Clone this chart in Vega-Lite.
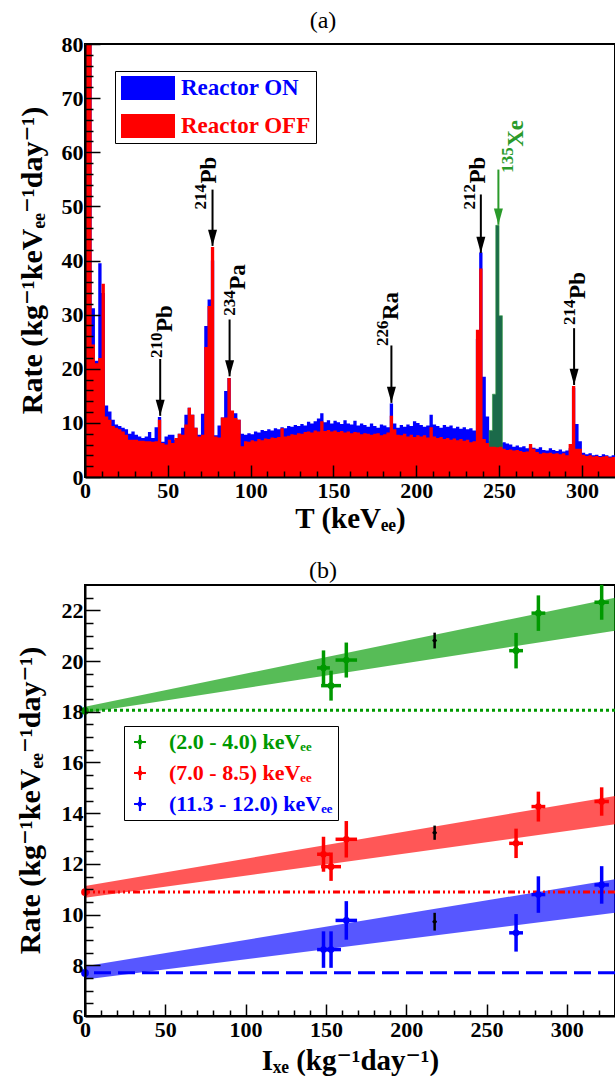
{
  "$schema": "https://vega.github.io/schema/vega-lite/v6.json",
  "padding": {"left": 13, "top": 8, "right": 0, "bottom": 0},
  "spacing": 108,
  "bounds": "flush",
  "resolve": {"scale": {"color": "independent", "fill": "independent", "stroke": "independent", "strokeDash": "independent"}, "legend": {"color": "independent"}},
  "datasets": {
    "hist": [
      {"E":0,"on":80,"off":80},{"E":2,"on":80,"off":80},{"E":4,"on":31.2,"off":24.5},{"E":6,"on":21.5,"off":21},
      {"E":8,"on":39.5,"off":22},{"E":10,"on":34,"off":35.7},{"E":12,"on":13.2,"off":11.2},{"E":14,"on":12.1,"off":10.6},
      {"E":16,"on":10.6,"off":9.4},{"E":18,"on":9.7,"off":9.1},{"E":20,"on":9.4,"off":8.8},{"E":22,"on":9.1,"off":8.4},
      {"E":24,"on":8.8,"off":7.8},{"E":26,"on":8.0,"off":6.9},{"E":28,"on":8.4,"off":6.9},{"E":30,"on":7.8,"off":6.9},
      {"E":32,"on":7.5,"off":6.7},{"E":34,"on":7.2,"off":6.7},{"E":36,"on":7.5,"off":6.6},{"E":38,"on":8.3,"off":6.6},
      {"E":40,"on":7.2,"off":6.5},{"E":42,"on":9.2,"off":6.6},{"E":44,"on":11.1,"off":10.6},{"E":46,"on":6.5,"off":6.3},
      {"E":48,"on":7.5,"off":6.0},{"E":50,"on":7.8,"off":6.9},{"E":52,"on":7.8,"off":6.3},{"E":54,"on":6.9,"off":7.2},
      {"E":56,"on":8.0,"off":8.0},{"E":58,"on":9.1,"off":7.8},{"E":60,"on":11.5,"off":9.7},{"E":62,"on":12.8,"off":12.8},
      {"E":64,"on":11.5,"off":11.5},{"E":66,"on":9.1,"off":9.1},{"E":68,"on":7.8,"off":7.5},{"E":70,"on":11.7,"off":7.8},
      {"E":72,"on":27.9,"off":24},{"E":74,"on":32.8,"off":31.6},{"E":76,"on":40,"off":42.5},{"E":78,"on":7.7,"off":7.5},
      {"E":80,"on":9.5,"off":7.3},{"E":82,"on":11.0,"off":11.0},{"E":84,"on":15.9,"off":11.0},{"E":86,"on":18.3,"off":18.3},
      {"E":88,"on":11.8,"off":12.3},{"E":90,"on":11.8,"off":10.9},{"E":92,"on":10.6,"off":10.6},{"E":94,"on":8.0,"off":5.7},
      {"E":96,"on":7.8,"off":6.6},{"E":98,"on":8.1,"off":6.5},{"E":100,"on":7.9,"off":6.8},{"E":102,"on":8.4,"off":6.6},
      {"E":104,"on":8.2,"off":7.0},{"E":106,"on":8.7,"off":6.8},{"E":108,"on":8.5,"off":7.1},{"E":110,"on":8.8,"off":7.0},
      {"E":112,"on":8.6,"off":7.3},{"E":114,"on":9.0,"off":7.2},{"E":116,"on":8.8,"off":7.4},{"E":118,"on":9.2,"off":9.0},
      {"E":120,"on":9.0,"off":7.5},{"E":122,"on":9.4,"off":7.6},{"E":124,"on":9.3,"off":7.9},{"E":126,"on":9.6,"off":7.8},
      {"E":128,"on":9.4,"off":8.1},{"E":130,"on":9.8,"off":8.0},{"E":132,"on":9.5,"off":8.3},{"E":134,"on":10.2,"off":8.4},
      {"E":136,"on":9.9,"off":8.2},{"E":138,"on":10.3,"off":8.6},{"E":140,"on":10.8,"off":8.4},{"E":142,"on":11.8,"off":10.3},
      {"E":144,"on":10.1,"off":8.5},{"E":146,"on":10.5,"off":8.7},{"E":148,"on":9.9,"off":8.4},{"E":150,"on":10.4,"off":8.6},
      {"E":152,"on":10.1,"off":8.3},{"E":154,"on":9.8,"off":8.5},{"E":156,"on":10.5,"off":8.2},{"E":158,"on":9.9,"off":8.4},
      {"E":160,"on":9.7,"off":8.1},{"E":162,"on":10.4,"off":8.3},{"E":164,"on":9.5,"off":8.2},{"E":166,"on":9.9,"off":7.9},
      {"E":168,"on":9.6,"off":8.1},{"E":170,"on":9.3,"off":8.0},{"E":172,"on":9.9,"off":7.8},{"E":174,"on":9.4,"off":8.0},
      {"E":176,"on":9.1,"off":8.1},{"E":178,"on":9.7,"off":7.7},{"E":180,"on":9.5,"off":7.9},{"E":182,"on":9.2,"off":8.2},
      {"E":184,"on":13.6,"off":11.3},{"E":186,"on":9.9,"off":8.8},{"E":188,"on":9.1,"off":7.8},{"E":190,"on":9.6,"off":7.7},
      {"E":192,"on":9.3,"off":8.0},{"E":194,"on":9.7,"off":7.5},{"E":196,"on":9.4,"off":7.8},{"E":198,"on":10.3,"off":7.4},
      {"E":200,"on":10.0,"off":7.7},{"E":202,"on":9.6,"off":7.5},{"E":204,"on":9.3,"off":7.7},{"E":206,"on":9.5,"off":7.3},
      {"E":208,"on":11.5,"off":9.2},{"E":210,"on":9.7,"off":7.5},{"E":212,"on":9.4,"off":7.2},{"E":214,"on":9.1,"off":7.4},
      {"E":216,"on":9.6,"off":7.0},{"E":218,"on":9.3,"off":7.2},{"E":220,"on":9.5,"off":6.9},{"E":222,"on":9.0,"off":7.1},
      {"E":224,"on":9.3,"off":6.8},{"E":226,"on":8.9,"off":7.0},{"E":228,"on":9.2,"off":6.7},{"E":230,"on":8.8,"off":6.9},
      {"E":232,"on":9.0,"off":6.4},{"E":234,"on":8.6,"off":6.6},{"E":236,"on":25.5,"off":27.2},{"E":238,"on":41.5,"off":38.5},
      {"E":240,"on":18.5,"off":7.0},{"E":242,"on":11.2,"off":6.3},{"E":244,"on":6.6,"off":5.6,"xe":8.6},{"E":246,"on":6.4,"off":5.6,"xe":15.3},
      {"E":248,"on":6.5,"off":5.5,"xe":46.5},{"E":250,"on":6.3,"off":5.6,"xe":29.8},{"E":252,"on":6.4,"off":5.2,"xe":0},{"E":254,"on":6.2,"off":5.0},
      {"E":256,"on":6.0,"off":5.1},{"E":258,"on":5.6,"off":4.9},{"E":260,"on":5.8,"off":5.0},{"E":262,"on":5.5,"off":4.8},
      {"E":264,"on":5.7,"off":4.6},{"E":266,"on":5.3,"off":4.7},{"E":268,"on":5.6,"off":6.1},{"E":270,"on":5.4,"off":5.2},
      {"E":272,"on":5.2,"off":4.6},{"E":274,"on":5.5,"off":4.3},{"E":276,"on":5.0,"off":4.5},{"E":278,"on":4.9,"off":4.4},
      {"E":280,"on":5.3,"off":4.5},{"E":282,"on":5.0,"off":4.3},{"E":284,"on":4.8,"off":4.4},{"E":286,"on":5.1,"off":4.2},
      {"E":288,"on":4.7,"off":4.4},{"E":290,"on":4.9,"off":4.0},{"E":292,"on":5.3,"off":6.1},{"E":294,"on":16.5,"off":16.8},
      {"E":296,"on":9.8,"off":5.2},{"E":298,"on":6.6,"off":5.2},{"E":300,"on":4.5,"off":4.1},{"E":302,"on":4.2,"off":3.9},
      {"E":304,"on":4.4,"off":4.0},{"E":306,"on":4.0,"off":3.8},{"E":308,"on":4.1,"off":3.9},{"E":310,"on":3.9,"off":3.7},
      {"E":312,"on":4.2,"off":3.8},{"E":314,"on":4.0,"off":3.9},{"E":316,"on":3.8,"off":3.6},{"E":318,"on":4.0,"off":3.7},
      {"E":320,"on":4.0,"off":3.7}
    ],
    "arrows": [
      {"el":"Pb","sup":"210","x":45.4,"top":21.8,"tip":11.3,"lx":48.0,"ly":22.0,"kind":"bg"},
      {"el":"Pb","sup":"214","x":77.0,"top":53.1,"tip":42.7,"lx":74.8,"ly":49.4,"kind":"bg"},
      {"el":"Pa","sup":"234","x":87.3,"top":29.1,"tip":18.6,"lx":92.6,"ly":29.8,"kind":"bg"},
      {"el":"Ra","sup":"226","x":185.0,"top":24.3,"tip":13.7,"lx":184.7,"ly":24.2,"kind":"bg"},
      {"el":"Pb","sup":"212","x":239.0,"top":52.2,"tip":41.4,"lx":237.5,"ly":49.4,"kind":"bg"},
      {"el":"Xe","sup":"135","x":249.6,"top":56.8,"tip":46.6,"lx":260.1,"ly":56.2,"kind":"xe"},
      {"el":"Pb","sup":"214","x":295.3,"top":27.5,"tip":17.0,"lx":297.8,"ly":28.1,"kind":"bg"}
    ],
    "bands": [
      {"series":"(2.0 - 4.0) keVₑₑ","I":0,"lo":17.95,"hi":18.2},{"series":"(2.0 - 4.0) keVₑₑ","I":330,"lo":21.2,"hi":22.5},
      {"series":"(7.0 - 8.5) keVₑₑ","I":0,"lo":10.66,"hi":11.13},{"series":"(7.0 - 8.5) keVₑₑ","I":330,"lo":13.56,"hi":14.68},
      {"series":"(11.3 - 12.0) keVₑₑ","I":0,"lo":7.44,"hi":7.96},{"series":"(11.3 - 12.0) keVₑₑ","I":330,"lo":10.07,"hi":11.39}
    ],
    "levels": [
      {"series":"(2.0 - 4.0) keVₑₑ","level":18.06},
      {"series":"(7.0 - 8.5) keVₑₑ","level":10.89},
      {"series":"(11.3 - 12.0) keVₑₑ","level":7.71}
    ],
    "pts": [
      {"series":"(2.0 - 4.0) keVₑₑ","I":148.5,"R":19.73,"eR":0.69,"eI":4.0},
      {"series":"(2.0 - 4.0) keVₑₑ","I":153.2,"R":19.03,"eR":0.59,"eI":6.2},
      {"series":"(2.0 - 4.0) keVₑₑ","I":162.7,"R":20.04,"eR":0.69,"eI":6.7},
      {"series":"(2.0 - 4.0) keVₑₑ","I":268.4,"R":20.41,"eR":0.7,"eI":4.3},
      {"series":"(2.0 - 4.0) keVₑₑ","I":282.3,"R":21.89,"eR":0.7,"eI":4.3},
      {"series":"(2.0 - 4.0) keVₑₑ","I":321.7,"R":22.32,"eR":0.69,"eI":4.5},
      {"series":"(7.0 - 8.5) keVₑₑ","I":148.5,"R":12.38,"eR":0.69,"eI":4.0},
      {"series":"(7.0 - 8.5) keVₑₑ","I":153.2,"R":11.89,"eR":0.56,"eI":6.2},
      {"series":"(7.0 - 8.5) keVₑₑ","I":162.7,"R":12.97,"eR":0.72,"eI":6.7},
      {"series":"(7.0 - 8.5) keVₑₑ","I":268.4,"R":12.81,"eR":0.58,"eI":4.3},
      {"series":"(7.0 - 8.5) keVₑₑ","I":282.3,"R":14.26,"eR":0.59,"eI":4.3},
      {"series":"(7.0 - 8.5) keVₑₑ","I":321.7,"R":14.46,"eR":0.56,"eI":4.5},
      {"series":"(11.3 - 12.0) keVₑₑ","I":148.5,"R":8.62,"eR":0.72,"eI":4.0},
      {"series":"(11.3 - 12.0) keVₑₑ","I":153.2,"R":8.62,"eR":0.72,"eI":6.2},
      {"series":"(11.3 - 12.0) keVₑₑ","I":162.7,"R":9.77,"eR":0.76,"eI":6.7},
      {"series":"(11.3 - 12.0) keVₑₑ","I":268.4,"R":9.28,"eR":0.74,"eI":4.3},
      {"series":"(11.3 - 12.0) keVₑₑ","I":282.3,"R":10.79,"eR":0.72,"eI":4.3},
      {"series":"(11.3 - 12.0) keVₑₑ","I":321.7,"R":11.17,"eR":0.74,"eI":4.5}
    ],
    "icpt": [
      {"series":"(2.0 - 4.0) keVₑₑ","I":0,"R":18.04},
      {"series":"(7.0 - 8.5) keVₑₑ","I":0,"R":10.89},
      {"series":"(11.3 - 12.0) keVₑₑ","I":0,"R":7.70}
    ],
    "black": [
      {"I":217.7,"R":20.81,"eR":0.31,"eI":1.2},
      {"I":217.7,"R":13.23,"eR":0.28,"eI":1.2},
      {"I":217.7,"R":9.72,"eR":0.35,"eI":1.2}
    ]
  },
  "vconcat": [
    {
      "width": 530,
      "height": 433,
      "title": {"text": "(a)", "fontSize": 24, "fontWeight": "normal", "anchor": "middle", "dx": -27, "offset": 0, "frame": "group"},
      "resolve": {"axis": {"x": "independent", "y": "independent"}},
      "layer": [
        {
          "data": {"name": "hist"},
          "mark": {"type": "area", "interpolate": "step-after", "clip": true},
          "encoding": {
            "x": {"field": "E", "type": "quantitative", "scale": {"domain": [0, 320], "nice": false},
              "axis": {"orient": "bottom", "values": [0, 50, 100, 150, 200, 250, 300], "tickSize": -12, "labelPadding": 15,
                "labelFlush": false, "zindex": 1, "title": "T (keVₑₑ)", "titleFontSize": 29, "titleY": 50, "titleBaseline": "alphabetic"}},
            "y": {"field": "on", "type": "quantitative", "stack": null, "scale": {"domain": [0, 80], "nice": false},
              "axis": {"orient": "left", "values": [0, 10, 20, 30, 40, 50, 60, 70, 80], "tickSize": -15, "labelPadding": 17,
                "labelFlush": false, "zindex": 1, "title": "Rate (kg⁻¹keVₑₑ⁻¹day⁻¹)",
                "titleX": -44, "titleY": 216, "titleAngle": 270, "titleAlign": "center", "titleBaseline": "alphabetic"}},
            "color": {"datum": "Reactor ON", "type": "nominal",
              "scale": {"domain": ["Reactor ON", "Reactor OFF"], "range": ["#0000ff", "#ff0000"]},
              "legend": {"orient": "none", "legendX": 30, "legendY": 27, "title": null, "padding": 5,
                "strokeColor": "black", "fillColor": "white",
                "symbolType": "M-2.25,-1H2.25V1H-2.25Z", "symbolSize": 576, "symbolOffset": 16, "symbolStrokeWidth": 0, "symbolOpacity": 1,
                "labelOffset": 21, "rowPadding": 14, "labelFontSize": 23, "labelFontWeight": "bold", "labelLimit": 300,
                "encode": {"labels": {"update": {"fill": {"signal": "datum.value === 'Reactor ON' ? '#0000ff' : '#ff0000'"}}}}}}
          }
        },
        {
          "data": {"name": "hist"},
          "mark": {"type": "area", "interpolate": "step-after", "clip": true, "color": "#1b6a4a", "stroke": "#2f9a3f", "strokeWidth": 0.6},
          "encoding": {
            "x": {"field": "E", "type": "quantitative", "axis": null},
            "y": {"field": "xe", "type": "quantitative", "stack": null, "axis": null}
          }
        },
        {
          "data": {"name": "hist"},
          "mark": {"type": "area", "interpolate": "step-after", "clip": true},
          "encoding": {
            "x": {"field": "E", "type": "quantitative",
              "axis": {"orient": "bottom", "values": [10,20,30,40,60,70,80,90,110,120,130,140,160,170,180,190,210,220,230,240,260,270,280,290,310],
                "tickSize": -6, "labels": false, "domain": false, "title": null, "zindex": 1}},
            "y": {"field": "off", "type": "quantitative", "stack": null,
              "axis": {"orient": "left", "values": [2,4,6,8,12,14,16,18,22,24,26,28,32,34,36,38,42,44,46,48,52,54,56,58,62,64,66,68,72,74,76,78],
                "tickSize": -8, "labels": false, "domain": false, "title": null, "zindex": 1}},
            "color": {"datum": "Reactor OFF", "type": "nominal"}
          }
        },
        {
          "data": {"name": "arrows"},
          "mark": {"type": "rule", "strokeWidth": 2},
          "encoding": {
            "x": {"field": "x", "type": "quantitative", "axis": null},
            "y": {"field": "top", "type": "quantitative", "axis": null},
            "y2": {"field": "tip"},
            "stroke": {"field": "kind", "type": "nominal", "scale": {"domain": ["bg", "xe"], "range": ["#000000", "#2a9a2a"]}, "legend": null}
          }
        },
        {
          "data": {"name": "arrows"},
          "mark": {"type": "point", "shape": "M-0.5,-1.8L0.5,-1.8L0,0Z", "filled": true, "size": 324, "opacity": 1},
          "encoding": {
            "x": {"field": "x", "type": "quantitative", "axis": null},
            "y": {"field": "tip", "type": "quantitative", "axis": null},
            "fill": {"field": "kind", "type": "nominal", "scale": {"domain": ["bg", "xe"], "range": ["#000000", "#2a9a2a"]}, "legend": null}
          }
        },
        {
          "data": {"name": "arrows"},
          "mark": {"type": "text", "angle": 270, "align": "left", "baseline": "middle", "fontSize": 17, "fontWeight": "bold", "dy": -8},
          "encoding": {
            "x": {"field": "lx", "type": "quantitative", "axis": null},
            "y": {"field": "ly", "type": "quantitative", "axis": null},
            "text": {"field": "sup"},
            "fill": {"field": "kind", "type": "nominal", "legend": null}
          }
        },
        {
          "data": {"name": "arrows"},
          "mark": {"type": "text", "angle": 270, "align": "left", "baseline": "middle", "fontSize": 23, "fontWeight": "bold", "dx": 26},
          "encoding": {
            "x": {"field": "lx", "type": "quantitative", "axis": null},
            "y": {"field": "ly", "type": "quantitative", "axis": null},
            "text": {"field": "el"},
            "fill": {"field": "kind", "type": "nominal", "legend": null}
          }
        }
      ]
    },
    {
      "width": 530,
      "height": 431,
      "title": {"text": "(b)", "fontSize": 24, "fontWeight": "normal", "anchor": "middle", "dx": -27, "offset": 0, "frame": "group"},
      "resolve": {"axis": {"x": "independent", "y": "independent"}},
      "layer": [
        {
          "data": {"name": "bands"},
          "mark": {"type": "area", "opacity": 0.66},
          "encoding": {
            "x": {"field": "I", "type": "quantitative", "scale": {"domain": [0, 330], "nice": false},
              "axis": {"orient": "bottom", "values": [0, 50, 100, 150, 200, 250, 300], "tickSize": -12, "labelPadding": 15,
                "labelFlush": false, "zindex": 1, "title": "Iₓₑ (kg⁻¹day⁻¹)", "titleFontSize": 29, "titleY": 53, "titleBaseline": "alphabetic"}},
            "y": {"field": "lo", "type": "quantitative", "stack": null, "scale": {"domain": [6, 23], "nice": false},
              "axis": {"orient": "left", "values": [6, 8, 10, 12, 14, 16, 18, 20, 22], "tickSize": -15, "labelPadding": 17,
                "labelFlush": false, "zindex": 1, "title": "Rate (kg⁻¹keVₑₑ⁻¹day⁻¹)",
                "titleX": -46, "titleY": 215, "titleAngle": 270, "titleAlign": "center", "titleBaseline": "alphabetic"}},
            "y2": {"field": "hi"},
            "color": {"field": "series", "type": "nominal",
              "scale": {"domain": ["(2.0 - 4.0) keVₑₑ", "(7.0 - 8.5) keVₑₑ", "(11.3 - 12.0) keVₑₑ"], "range": ["#009900", "#ff0000", "#0000ff"]},
              "legend": {"orient": "none", "legendX": 39, "legendY": 141, "title": null, "padding": 5,
                "strokeColor": "black", "fillColor": "white",
                "symbolType": "M-0.16,-1H0.16V-0.38L0.42,0L0.16,0.38V1H-0.16V0.38L-0.42,0L-0.16,-0.38ZM-0.85,-0.14H0.85V0.14H-0.85Z", "symbolSize": 196, "symbolStrokeWidth": 0, "symbolOpacity": 1,
                "labelOffset": 18, "rowPadding": 9, "labelFontSize": 22, "labelFontWeight": "bold", "labelLimit": 300,
                "encode": {"labels": {"update": {"fill": {"signal": "indexof(datum.value, '(2.0') === 0 ? '#009900' : indexof(datum.value, '(7.0') === 0 ? '#ff0000' : '#0000ff'"}}}}}}
          }
        },
        {
          "data": {"name": "levels"},
          "mark": {"type": "rule", "strokeWidth": 3},
          "encoding": {
            "y": {"field": "level", "type": "quantitative",
              "axis": {"orient": "left", "values": [6.5,7,7.5,8.5,9,9.5,10.5,11,11.5,12.5,13,13.5,14.5,15,15.5,16.5,17,17.5,18.5,19,19.5,20.5,21,21.5,22.5],
                "tickSize": -8, "labels": false, "domain": false, "title": null, "zindex": 1}},
            "color": {"field": "series", "type": "nominal"},
            "strokeDash": {"field": "series", "type": "nominal",
              "scale": {"domain": ["(2.0 - 4.0) keVₑₑ", "(7.0 - 8.5) keVₑₑ", "(11.3 - 12.0) keVₑₑ"], "range": [[3, 3], [7, 3, 2, 3, 2, 3, 2, 3], [17, 7]]},
              "legend": null}
          }
        },
        {
          "data": {"name": "pts"},
          "mark": {"type": "errorbar", "thickness": 3.5, "ticks": false},
          "encoding": {
            "x": {"field": "I", "type": "quantitative",
              "axis": {"orient": "bottom", "values": [10,20,30,40,60,70,80,90,110,120,130,140,160,170,180,190,210,220,230,240,260,270,280,290,310,320],
                "tickSize": -6, "labels": false, "domain": false, "title": null, "zindex": 1}},
            "y": {"field": "R", "type": "quantitative", "axis": null},
            "yError": {"field": "eR"},
            "color": {"field": "series", "type": "nominal"}
          }
        },
        {
          "data": {"name": "pts"},
          "mark": {"type": "errorbar", "thickness": 3.5, "ticks": false},
          "encoding": {
            "y": {"field": "R", "type": "quantitative", "axis": null},
            "x": {"field": "I", "type": "quantitative", "axis": null},
            "xError": {"field": "eI"},
            "color": {"field": "series", "type": "nominal"}
          }
        },
        {
          "data": {"name": "pts"},
          "mark": {"type": "point", "filled": true, "size": 45, "opacity": 1},
          "encoding": {
            "x": {"field": "I", "type": "quantitative", "axis": null},
            "y": {"field": "R", "type": "quantitative", "axis": null},
            "color": {"field": "series", "type": "nominal"}
          }
        },
        {
          "data": {"name": "icpt"},
          "mark": {"type": "point", "filled": true, "size": 60, "opacity": 1},
          "encoding": {
            "x": {"field": "I", "type": "quantitative", "axis": null},
            "y": {"field": "R", "type": "quantitative", "axis": null},
            "color": {"field": "series", "type": "nominal"}
          }
        },
        {
          "data": {"name": "black"},
          "mark": {"type": "errorbar", "thickness": 2.5, "ticks": false, "color": "black"},
          "encoding": {
            "x": {"field": "I", "type": "quantitative", "axis": null},
            "y": {"field": "R", "type": "quantitative", "axis": null},
            "yError": {"field": "eR"}
          }
        },
        {
          "data": {"name": "black"},
          "mark": {"type": "errorbar", "thickness": 2, "ticks": false, "color": "black"},
          "encoding": {
            "y": {"field": "R", "type": "quantitative", "axis": null},
            "x": {"field": "I", "type": "quantitative", "axis": null},
            "xError": {"field": "eI"}
          }
        },
        {
          "data": {"name": "black"},
          "mark": {"type": "point", "filled": true, "size": 22, "opacity": 1, "color": "black", "shape": "diamond"},
          "encoding": {
            "x": {"field": "I", "type": "quantitative", "axis": null},
            "y": {"field": "R", "type": "quantitative", "axis": null}
          }
        }
      ]
    }
  ],
  "config": {
    "font": "Liberation Serif, DejaVu Serif, serif",
    "text": {"font": "Liberation Serif, DejaVu Serif, serif"},
    "title": {"font": "Liberation Serif, DejaVu Serif, serif"},
    "legend": {"labelFont": "Liberation Serif, DejaVu Serif, serif"},
    "view": {"stroke": "black", "strokeWidth": 2},
    "axis": {"domainColor": "black", "domainWidth": 2, "tickColor": "black", "tickWidth": 1.5, "grid": false, "labelOverlap": false,
      "labelFont": "Liberation Serif, DejaVu Serif, serif", "labelFontSize": 22, "labelFontWeight": "bold", "labelColor": "black",
      "titleFont": "Liberation Serif, DejaVu Serif, serif", "titleFontSize": 30, "titleFontWeight": "bold", "titleColor": "black"}
  }
}
